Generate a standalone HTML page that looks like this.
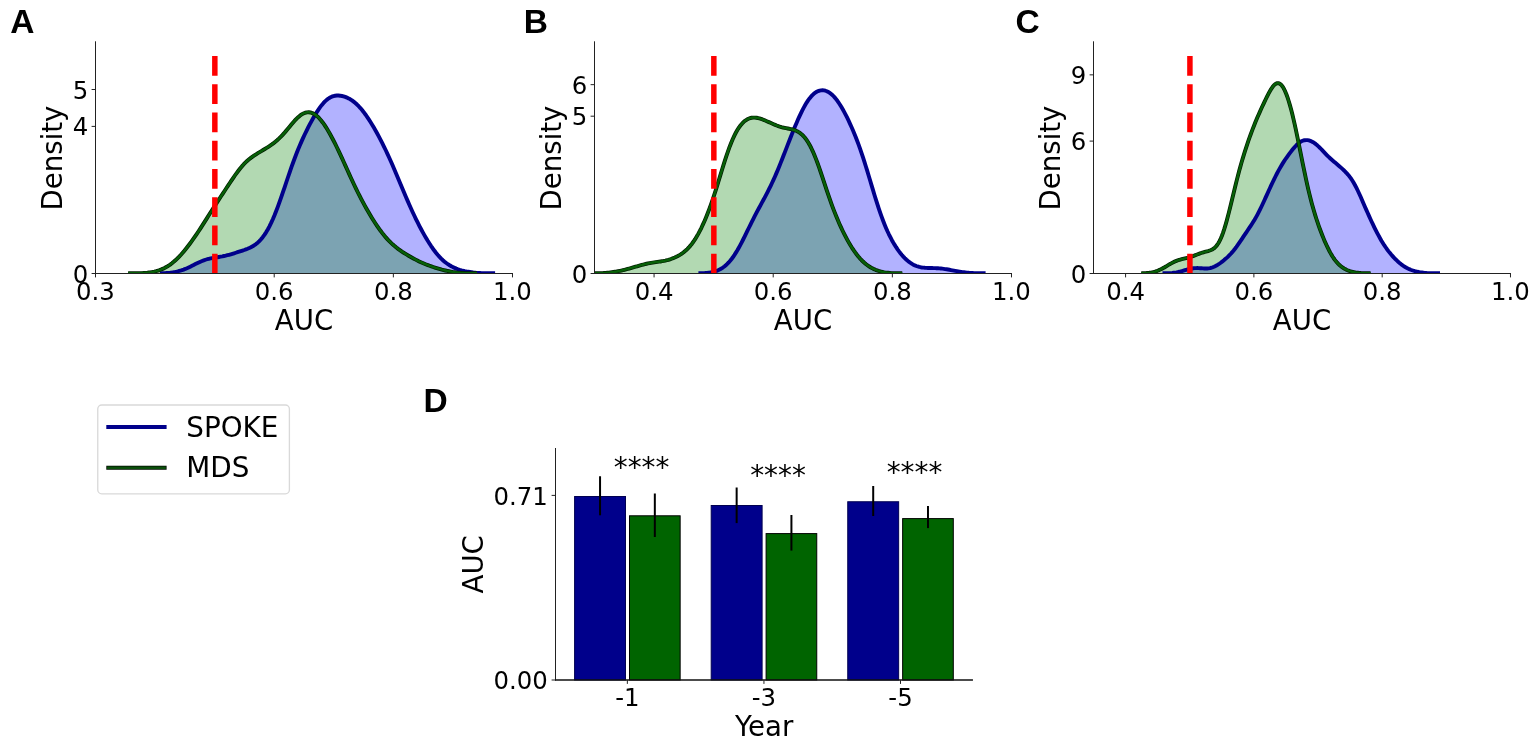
<!DOCTYPE html>
<html lang="en">
<head>
<meta charset="utf-8">
<title>SPOKE vs MDS AUC</title>
<style>
html,body{margin:0;padding:0;background:#fff;}
body{width:1535px;height:743px;overflow:hidden;}
svg{display:block;}
svg text{font-family:"DejaVu Sans", "Liberation Sans", sans-serif;}
svg .letters text{font-family:"Liberation Sans", "DejaVu Sans", sans-serif;font-weight:bold;}
</style>
</head>
<body>
<svg width="1535" height="743" viewBox="0 0 1535 743">
<rect width="1535" height="743" fill="#fff"/>
<clipPath id="clipA"><rect x="95.50" y="41.30" width="416.99" height="232.20"/></clipPath>
<g clip-path="url(#clipA)">
<path d="M160.00,273.30 L161.68,273.30 L163.37,273.25 L165.05,273.16 L166.74,273.05 L168.42,272.92 L170.10,272.75 L171.79,272.54 L173.47,272.29 L175.16,271.99 L176.84,271.63 L178.52,271.22 L180.21,270.74 L181.89,270.20 L183.57,269.60 L185.26,268.94 L186.94,268.22 L188.63,267.45 L190.31,266.65 L191.99,265.81 L193.68,264.96 L195.36,264.11 L197.05,263.28 L198.73,262.47 L200.41,261.70 L202.10,260.99 L203.78,260.34 L205.47,259.76 L207.15,259.24 L208.83,258.79 L210.52,258.40 L212.20,258.06 L213.89,257.76 L215.57,257.49 L217.25,257.23 L218.94,256.96 L220.62,256.68 L222.31,256.37 L223.99,256.02 L225.67,255.65 L227.36,255.23 L229.04,254.78 L230.72,254.30 L232.41,253.79 L234.09,253.27 L235.78,252.74 L237.46,252.20 L239.14,251.66 L240.83,251.12 L242.51,250.56 L244.20,249.99 L245.88,249.38 L247.56,248.73 L249.25,248.02 L250.93,247.21 L252.62,246.29 L254.30,245.24 L255.98,244.04 L257.67,242.65 L259.35,241.06 L261.04,239.25 L262.72,237.20 L264.40,234.89 L266.09,232.32 L267.77,229.46 L269.45,226.32 L271.14,222.90 L272.82,219.20 L274.51,215.24 L276.19,211.02 L277.87,206.58 L279.56,201.94 L281.24,197.15 L282.93,192.24 L284.61,187.26 L286.29,182.25 L287.98,177.25 L289.66,172.32 L291.35,167.48 L293.03,162.77 L294.71,158.21 L296.40,153.81 L298.08,149.58 L299.77,145.52 L301.45,141.63 L303.13,137.89 L304.82,134.29 L306.50,130.81 L308.18,127.46 L309.87,124.22 L311.55,121.09 L313.24,118.07 L314.92,115.17 L316.60,112.42 L318.29,109.82 L319.97,107.39 L321.66,105.17 L323.34,103.16 L325.02,101.38 L326.71,99.84 L328.39,98.55 L330.08,97.51 L331.76,96.70 L333.44,96.12 L335.13,95.75 L336.81,95.56 L338.50,95.55 L340.18,95.69 L341.86,95.98 L343.55,96.39 L345.23,96.94 L346.92,97.60 L348.60,98.40 L350.28,99.33 L351.97,100.41 L353.65,101.63 L355.33,103.00 L357.02,104.54 L358.70,106.23 L360.39,108.07 L362.07,110.07 L363.75,112.21 L365.44,114.48 L367.12,116.88 L368.81,119.40 L370.49,122.02 L372.17,124.75 L373.86,127.58 L375.54,130.50 L377.23,133.52 L378.91,136.63 L380.59,139.83 L382.28,143.12 L383.96,146.51 L385.65,149.99 L387.33,153.57 L389.01,157.23 L390.70,160.98 L392.38,164.80 L394.06,168.70 L395.75,172.65 L397.43,176.64 L399.12,180.66 L400.80,184.70 L402.48,188.73 L404.17,192.74 L405.85,196.71 L407.54,200.63 L409.22,204.48 L410.90,208.26 L412.59,211.95 L414.27,215.54 L415.96,219.05 L417.64,222.45 L419.32,225.76 L421.01,228.97 L422.69,232.08 L424.38,235.09 L426.06,237.99 L427.74,240.79 L429.43,243.47 L431.11,246.04 L432.79,248.48 L434.48,250.79 L436.16,252.96 L437.85,255.00 L439.53,256.89 L441.21,258.63 L442.90,260.23 L444.58,261.69 L446.27,263.02 L447.95,264.22 L449.63,265.30 L451.32,266.26 L453.00,267.13 L454.69,267.91 L456.37,268.60 L458.05,269.23 L459.74,269.78 L461.42,270.28 L463.11,270.72 L464.79,271.11 L466.47,271.46 L468.16,271.77 L469.84,272.04 L471.53,272.28 L473.21,272.49 L474.89,272.66 L476.58,272.82 L478.26,272.95 L479.94,273.06 L481.63,273.15 L483.31,273.22 L485.00,273.28 L486.68,273.30 L488.36,273.30 L490.05,273.30 L491.73,273.30 L493.42,273.30 L495.10,273.30 L495.10,273.50 L160.00,273.50 Z" fill="#0000ff" fill-opacity="0.3"/>
<path d="M128.10,273.30 L129.85,273.30 L131.61,273.30 L133.36,273.30 L135.11,273.30 L136.87,273.30 L138.62,273.27 L140.37,273.20 L142.13,273.10 L143.88,272.99 L145.63,272.85 L147.39,272.68 L149.14,272.46 L150.89,272.21 L152.65,271.91 L154.40,271.54 L156.15,271.12 L157.91,270.62 L159.66,270.05 L161.41,269.39 L163.17,268.63 L164.92,267.78 L166.67,266.82 L168.43,265.75 L170.18,264.56 L171.93,263.26 L173.68,261.83 L175.44,260.29 L177.19,258.64 L178.94,256.87 L180.70,255.00 L182.45,253.03 L184.20,250.96 L185.96,248.80 L187.71,246.57 L189.46,244.25 L191.22,241.87 L192.97,239.42 L194.72,236.91 L196.48,234.35 L198.23,231.73 L199.98,229.07 L201.74,226.37 L203.49,223.64 L205.24,220.88 L207.00,218.11 L208.75,215.33 L210.50,212.56 L212.26,209.80 L214.01,207.06 L215.76,204.33 L217.52,201.63 L219.27,198.94 L221.02,196.27 L222.78,193.61 L224.53,190.95 L226.28,188.29 L228.04,185.64 L229.79,182.99 L231.54,180.37 L233.30,177.79 L235.05,175.26 L236.80,172.81 L238.56,170.46 L240.31,168.23 L242.06,166.14 L243.82,164.19 L245.57,162.40 L247.32,160.75 L249.08,159.25 L250.83,157.87 L252.58,156.59 L254.34,155.40 L256.09,154.28 L257.84,153.19 L259.59,152.14 L261.35,151.09 L263.10,150.04 L264.85,148.98 L266.61,147.90 L268.36,146.78 L270.11,145.62 L271.87,144.40 L273.62,143.10 L275.37,141.72 L277.13,140.24 L278.88,138.64 L280.63,136.93 L282.39,135.10 L284.14,133.16 L285.89,131.13 L287.65,129.03 L289.40,126.90 L291.15,124.77 L292.91,122.68 L294.66,120.69 L296.41,118.83 L298.17,117.14 L299.92,115.66 L301.67,114.42 L303.43,113.44 L305.18,112.74 L306.93,112.35 L308.69,112.26 L310.44,112.48 L312.19,113.02 L313.95,113.87 L315.70,115.03 L317.45,116.48 L319.21,118.21 L320.96,120.20 L322.71,122.45 L324.47,124.92 L326.22,127.60 L327.97,130.47 L329.73,133.50 L331.48,136.69 L333.23,140.01 L334.99,143.46 L336.74,147.01 L338.49,150.65 L340.25,154.37 L342.00,158.15 L343.75,161.98 L345.51,165.85 L347.26,169.72 L349.01,173.59 L350.76,177.44 L352.52,181.24 L354.27,184.98 L356.02,188.65 L357.78,192.24 L359.53,195.73 L361.28,199.13 L363.04,202.44 L364.79,205.66 L366.54,208.79 L368.30,211.83 L370.05,214.80 L371.80,217.68 L373.56,220.47 L375.31,223.19 L377.06,225.81 L378.82,228.34 L380.57,230.77 L382.32,233.09 L384.08,235.30 L385.83,237.39 L387.58,239.36 L389.34,241.21 L391.09,242.94 L392.84,244.57 L394.60,246.09 L396.35,247.52 L398.10,248.87 L399.86,250.14 L401.61,251.35 L403.36,252.52 L405.12,253.63 L406.87,254.71 L408.62,255.76 L410.38,256.78 L412.13,257.76 L413.88,258.72 L415.64,259.64 L417.39,260.53 L419.14,261.39 L420.90,262.21 L422.65,262.99 L424.40,263.74 L426.16,264.46 L427.91,265.14 L429.66,265.80 L431.42,266.42 L433.17,267.02 L434.92,267.59 L436.67,268.14 L438.43,268.66 L440.18,269.16 L441.93,269.64 L443.69,270.08 L445.44,270.50 L447.19,270.89 L448.95,271.25 L450.70,271.58 L452.45,271.88 L454.21,272.14 L455.96,272.37 L457.71,272.58 L459.47,272.75 L461.22,272.90 L462.97,273.02 L464.73,273.13 L466.48,273.21 L468.23,273.28 L469.99,273.30 L471.74,273.30 L473.49,273.30 L475.25,273.30 L477.00,273.30 L477.00,273.50 L128.10,273.50 Z" fill="#008000" fill-opacity="0.3"/>
<path d="M160.00,273.30 L161.68,273.30 L163.37,273.25 L165.05,273.16 L166.74,273.05 L168.42,272.92 L170.10,272.75 L171.79,272.54 L173.47,272.29 L175.16,271.99 L176.84,271.63 L178.52,271.22 L180.21,270.74 L181.89,270.20 L183.57,269.60 L185.26,268.94 L186.94,268.22 L188.63,267.45 L190.31,266.65 L191.99,265.81 L193.68,264.96 L195.36,264.11 L197.05,263.28 L198.73,262.47 L200.41,261.70 L202.10,260.99 L203.78,260.34 L205.47,259.76 L207.15,259.24 L208.83,258.79 L210.52,258.40 L212.20,258.06 L213.89,257.76 L215.57,257.49 L217.25,257.23 L218.94,256.96 L220.62,256.68 L222.31,256.37 L223.99,256.02 L225.67,255.65 L227.36,255.23 L229.04,254.78 L230.72,254.30 L232.41,253.79 L234.09,253.27 L235.78,252.74 L237.46,252.20 L239.14,251.66 L240.83,251.12 L242.51,250.56 L244.20,249.99 L245.88,249.38 L247.56,248.73 L249.25,248.02 L250.93,247.21 L252.62,246.29 L254.30,245.24 L255.98,244.04 L257.67,242.65 L259.35,241.06 L261.04,239.25 L262.72,237.20 L264.40,234.89 L266.09,232.32 L267.77,229.46 L269.45,226.32 L271.14,222.90 L272.82,219.20 L274.51,215.24 L276.19,211.02 L277.87,206.58 L279.56,201.94 L281.24,197.15 L282.93,192.24 L284.61,187.26 L286.29,182.25 L287.98,177.25 L289.66,172.32 L291.35,167.48 L293.03,162.77 L294.71,158.21 L296.40,153.81 L298.08,149.58 L299.77,145.52 L301.45,141.63 L303.13,137.89 L304.82,134.29 L306.50,130.81 L308.18,127.46 L309.87,124.22 L311.55,121.09 L313.24,118.07 L314.92,115.17 L316.60,112.42 L318.29,109.82 L319.97,107.39 L321.66,105.17 L323.34,103.16 L325.02,101.38 L326.71,99.84 L328.39,98.55 L330.08,97.51 L331.76,96.70 L333.44,96.12 L335.13,95.75 L336.81,95.56 L338.50,95.55 L340.18,95.69 L341.86,95.98 L343.55,96.39 L345.23,96.94 L346.92,97.60 L348.60,98.40 L350.28,99.33 L351.97,100.41 L353.65,101.63 L355.33,103.00 L357.02,104.54 L358.70,106.23 L360.39,108.07 L362.07,110.07 L363.75,112.21 L365.44,114.48 L367.12,116.88 L368.81,119.40 L370.49,122.02 L372.17,124.75 L373.86,127.58 L375.54,130.50 L377.23,133.52 L378.91,136.63 L380.59,139.83 L382.28,143.12 L383.96,146.51 L385.65,149.99 L387.33,153.57 L389.01,157.23 L390.70,160.98 L392.38,164.80 L394.06,168.70 L395.75,172.65 L397.43,176.64 L399.12,180.66 L400.80,184.70 L402.48,188.73 L404.17,192.74 L405.85,196.71 L407.54,200.63 L409.22,204.48 L410.90,208.26 L412.59,211.95 L414.27,215.54 L415.96,219.05 L417.64,222.45 L419.32,225.76 L421.01,228.97 L422.69,232.08 L424.38,235.09 L426.06,237.99 L427.74,240.79 L429.43,243.47 L431.11,246.04 L432.79,248.48 L434.48,250.79 L436.16,252.96 L437.85,255.00 L439.53,256.89 L441.21,258.63 L442.90,260.23 L444.58,261.69 L446.27,263.02 L447.95,264.22 L449.63,265.30 L451.32,266.26 L453.00,267.13 L454.69,267.91 L456.37,268.60 L458.05,269.23 L459.74,269.78 L461.42,270.28 L463.11,270.72 L464.79,271.11 L466.47,271.46 L468.16,271.77 L469.84,272.04 L471.53,272.28 L473.21,272.49 L474.89,272.66 L476.58,272.82 L478.26,272.95 L479.94,273.06 L481.63,273.15 L483.31,273.22 L485.00,273.28 L486.68,273.30 L488.36,273.30 L490.05,273.30 L491.73,273.30 L493.42,273.30 L495.10,273.30" fill="none" stroke="#00008b" stroke-width="3.9" stroke-linejoin="round"/>
<path d="M128.10,273.30 L129.85,273.30 L131.61,273.30 L133.36,273.30 L135.11,273.30 L136.87,273.30 L138.62,273.27 L140.37,273.20 L142.13,273.10 L143.88,272.99 L145.63,272.85 L147.39,272.68 L149.14,272.46 L150.89,272.21 L152.65,271.91 L154.40,271.54 L156.15,271.12 L157.91,270.62 L159.66,270.05 L161.41,269.39 L163.17,268.63 L164.92,267.78 L166.67,266.82 L168.43,265.75 L170.18,264.56 L171.93,263.26 L173.68,261.83 L175.44,260.29 L177.19,258.64 L178.94,256.87 L180.70,255.00 L182.45,253.03 L184.20,250.96 L185.96,248.80 L187.71,246.57 L189.46,244.25 L191.22,241.87 L192.97,239.42 L194.72,236.91 L196.48,234.35 L198.23,231.73 L199.98,229.07 L201.74,226.37 L203.49,223.64 L205.24,220.88 L207.00,218.11 L208.75,215.33 L210.50,212.56 L212.26,209.80 L214.01,207.06 L215.76,204.33 L217.52,201.63 L219.27,198.94 L221.02,196.27 L222.78,193.61 L224.53,190.95 L226.28,188.29 L228.04,185.64 L229.79,182.99 L231.54,180.37 L233.30,177.79 L235.05,175.26 L236.80,172.81 L238.56,170.46 L240.31,168.23 L242.06,166.14 L243.82,164.19 L245.57,162.40 L247.32,160.75 L249.08,159.25 L250.83,157.87 L252.58,156.59 L254.34,155.40 L256.09,154.28 L257.84,153.19 L259.59,152.14 L261.35,151.09 L263.10,150.04 L264.85,148.98 L266.61,147.90 L268.36,146.78 L270.11,145.62 L271.87,144.40 L273.62,143.10 L275.37,141.72 L277.13,140.24 L278.88,138.64 L280.63,136.93 L282.39,135.10 L284.14,133.16 L285.89,131.13 L287.65,129.03 L289.40,126.90 L291.15,124.77 L292.91,122.68 L294.66,120.69 L296.41,118.83 L298.17,117.14 L299.92,115.66 L301.67,114.42 L303.43,113.44 L305.18,112.74 L306.93,112.35 L308.69,112.26 L310.44,112.48 L312.19,113.02 L313.95,113.87 L315.70,115.03 L317.45,116.48 L319.21,118.21 L320.96,120.20 L322.71,122.45 L324.47,124.92 L326.22,127.60 L327.97,130.47 L329.73,133.50 L331.48,136.69 L333.23,140.01 L334.99,143.46 L336.74,147.01 L338.49,150.65 L340.25,154.37 L342.00,158.15 L343.75,161.98 L345.51,165.85 L347.26,169.72 L349.01,173.59 L350.76,177.44 L352.52,181.24 L354.27,184.98 L356.02,188.65 L357.78,192.24 L359.53,195.73 L361.28,199.13 L363.04,202.44 L364.79,205.66 L366.54,208.79 L368.30,211.83 L370.05,214.80 L371.80,217.68 L373.56,220.47 L375.31,223.19 L377.06,225.81 L378.82,228.34 L380.57,230.77 L382.32,233.09 L384.08,235.30 L385.83,237.39 L387.58,239.36 L389.34,241.21 L391.09,242.94 L392.84,244.57 L394.60,246.09 L396.35,247.52 L398.10,248.87 L399.86,250.14 L401.61,251.35 L403.36,252.52 L405.12,253.63 L406.87,254.71 L408.62,255.76 L410.38,256.78 L412.13,257.76 L413.88,258.72 L415.64,259.64 L417.39,260.53 L419.14,261.39 L420.90,262.21 L422.65,262.99 L424.40,263.74 L426.16,264.46 L427.91,265.14 L429.66,265.80 L431.42,266.42 L433.17,267.02 L434.92,267.59 L436.67,268.14 L438.43,268.66 L440.18,269.16 L441.93,269.64 L443.69,270.08 L445.44,270.50 L447.19,270.89 L448.95,271.25 L450.70,271.58 L452.45,271.88 L454.21,272.14 L455.96,272.37 L457.71,272.58 L459.47,272.75 L461.22,272.90 L462.97,273.02 L464.73,273.13 L466.48,273.21 L468.23,273.28 L469.99,273.30 L471.74,273.30 L473.49,273.30 L475.25,273.30 L477.00,273.30" fill="none" stroke="#001c00" stroke-width="3.9" stroke-linejoin="round"/>
<path d="M128.10,273.30 L129.85,273.30 L131.61,273.30 L133.36,273.30 L135.11,273.30 L136.87,273.30 L138.62,273.27 L140.37,273.20 L142.13,273.10 L143.88,272.99 L145.63,272.85 L147.39,272.68 L149.14,272.46 L150.89,272.21 L152.65,271.91 L154.40,271.54 L156.15,271.12 L157.91,270.62 L159.66,270.05 L161.41,269.39 L163.17,268.63 L164.92,267.78 L166.67,266.82 L168.43,265.75 L170.18,264.56 L171.93,263.26 L173.68,261.83 L175.44,260.29 L177.19,258.64 L178.94,256.87 L180.70,255.00 L182.45,253.03 L184.20,250.96 L185.96,248.80 L187.71,246.57 L189.46,244.25 L191.22,241.87 L192.97,239.42 L194.72,236.91 L196.48,234.35 L198.23,231.73 L199.98,229.07 L201.74,226.37 L203.49,223.64 L205.24,220.88 L207.00,218.11 L208.75,215.33 L210.50,212.56 L212.26,209.80 L214.01,207.06 L215.76,204.33 L217.52,201.63 L219.27,198.94 L221.02,196.27 L222.78,193.61 L224.53,190.95 L226.28,188.29 L228.04,185.64 L229.79,182.99 L231.54,180.37 L233.30,177.79 L235.05,175.26 L236.80,172.81 L238.56,170.46 L240.31,168.23 L242.06,166.14 L243.82,164.19 L245.57,162.40 L247.32,160.75 L249.08,159.25 L250.83,157.87 L252.58,156.59 L254.34,155.40 L256.09,154.28 L257.84,153.19 L259.59,152.14 L261.35,151.09 L263.10,150.04 L264.85,148.98 L266.61,147.90 L268.36,146.78 L270.11,145.62 L271.87,144.40 L273.62,143.10 L275.37,141.72 L277.13,140.24 L278.88,138.64 L280.63,136.93 L282.39,135.10 L284.14,133.16 L285.89,131.13 L287.65,129.03 L289.40,126.90 L291.15,124.77 L292.91,122.68 L294.66,120.69 L296.41,118.83 L298.17,117.14 L299.92,115.66 L301.67,114.42 L303.43,113.44 L305.18,112.74 L306.93,112.35 L308.69,112.26 L310.44,112.48 L312.19,113.02 L313.95,113.87 L315.70,115.03 L317.45,116.48 L319.21,118.21 L320.96,120.20 L322.71,122.45 L324.47,124.92 L326.22,127.60 L327.97,130.47 L329.73,133.50 L331.48,136.69 L333.23,140.01 L334.99,143.46 L336.74,147.01 L338.49,150.65 L340.25,154.37 L342.00,158.15 L343.75,161.98 L345.51,165.85 L347.26,169.72 L349.01,173.59 L350.76,177.44 L352.52,181.24 L354.27,184.98 L356.02,188.65 L357.78,192.24 L359.53,195.73 L361.28,199.13 L363.04,202.44 L364.79,205.66 L366.54,208.79 L368.30,211.83 L370.05,214.80 L371.80,217.68 L373.56,220.47 L375.31,223.19 L377.06,225.81 L378.82,228.34 L380.57,230.77 L382.32,233.09 L384.08,235.30 L385.83,237.39 L387.58,239.36 L389.34,241.21 L391.09,242.94 L392.84,244.57 L394.60,246.09 L396.35,247.52 L398.10,248.87 L399.86,250.14 L401.61,251.35 L403.36,252.52 L405.12,253.63 L406.87,254.71 L408.62,255.76 L410.38,256.78 L412.13,257.76 L413.88,258.72 L415.64,259.64 L417.39,260.53 L419.14,261.39 L420.90,262.21 L422.65,262.99 L424.40,263.74 L426.16,264.46 L427.91,265.14 L429.66,265.80 L431.42,266.42 L433.17,267.02 L434.92,267.59 L436.67,268.14 L438.43,268.66 L440.18,269.16 L441.93,269.64 L443.69,270.08 L445.44,270.50 L447.19,270.89 L448.95,271.25 L450.70,271.58 L452.45,271.88 L454.21,272.14 L455.96,272.37 L457.71,272.58 L459.47,272.75 L461.22,272.90 L462.97,273.02 L464.73,273.13 L466.48,273.21 L468.23,273.28 L469.99,273.30 L471.74,273.30 L473.49,273.30 L475.25,273.30 L477.00,273.30" fill="none" stroke="#076007" stroke-width="2.5" stroke-linejoin="round"/>
<line x1="214.84" y1="55.9" x2="214.84" y2="273.50" stroke="#ff0000" stroke-width="5.5" stroke-dasharray="19.73 8.53"/>
</g>
<g stroke="#222" stroke-width="1" fill="none">
<line x1="95.50" y1="41.30" x2="95.50" y2="274.00"/>
<line x1="95.00" y1="273.50" x2="512.99" y2="273.50"/>
<line x1="95.50" y1="273.50" x2="95.50" y2="277.40"/>
<line x1="274.21" y1="273.50" x2="274.21" y2="277.40"/>
<line x1="393.35" y1="273.50" x2="393.35" y2="277.40"/>
<line x1="512.49" y1="273.50" x2="512.49" y2="277.40"/>
<line x1="95.50" y1="273.50" x2="91.60" y2="273.50"/>
<line x1="95.50" y1="126.40" x2="91.60" y2="126.40"/>
<line x1="95.50" y1="89.50" x2="91.60" y2="89.50"/>
</g>
<g font-size="24.4" fill="#000">
<text x="95.50" y="299.50" text-anchor="middle">0.3</text>
<text x="274.21" y="299.50" text-anchor="middle">0.6</text>
<text x="393.35" y="299.50" text-anchor="middle">0.8</text>
<text x="512.49" y="299.50" text-anchor="middle">1.0</text>
<text x="88.20" y="282.50" text-anchor="end">0</text>
<text x="88.20" y="135.40" text-anchor="end">4</text>
<text x="88.20" y="98.50" text-anchor="end">5</text>
</g>
<text x="304.00" y="330.30" text-anchor="middle" font-size="27.6">AUC</text>
<text transform="translate(62.00,158.00) rotate(-90)" text-anchor="middle" font-size="27.6">Density</text>
<clipPath id="clipB"><rect x="594.50" y="41.30" width="416.99" height="232.20"/></clipPath>
<g clip-path="url(#clipB)">
<path d="M698.40,273.30 L699.84,273.30 L701.29,273.27 L702.73,273.20 L704.17,273.11 L705.62,273.00 L707.06,272.86 L708.50,272.69 L709.95,272.49 L711.39,272.23 L712.83,271.93 L714.28,271.56 L715.72,271.12 L717.16,270.60 L718.61,270.00 L720.05,269.29 L721.49,268.48 L722.93,267.55 L724.38,266.48 L725.82,265.28 L727.26,263.94 L728.71,262.45 L730.15,260.80 L731.59,258.99 L733.04,257.03 L734.48,254.91 L735.92,252.64 L737.37,250.24 L738.81,247.71 L740.25,245.06 L741.70,242.31 L743.14,239.49 L744.58,236.60 L746.03,233.67 L747.47,230.73 L748.91,227.77 L750.36,224.83 L751.80,221.92 L753.24,219.05 L754.69,216.22 L756.13,213.44 L757.57,210.70 L759.02,207.99 L760.46,205.32 L761.90,202.66 L763.34,200.00 L764.79,197.32 L766.23,194.60 L767.67,191.82 L769.12,188.98 L770.56,186.05 L772.00,183.03 L773.45,179.90 L774.89,176.68 L776.33,173.36 L777.78,169.94 L779.22,166.44 L780.66,162.86 L782.11,159.22 L783.55,155.54 L784.99,151.84 L786.44,148.11 L787.88,144.39 L789.32,140.69 L790.77,137.01 L792.21,133.38 L793.65,129.81 L795.10,126.31 L796.54,122.89 L797.98,119.58 L799.43,116.38 L800.87,113.31 L802.31,110.38 L803.75,107.61 L805.20,105.03 L806.64,102.62 L808.08,100.42 L809.53,98.43 L810.97,96.66 L812.41,95.10 L813.86,93.77 L815.30,92.66 L816.74,91.76 L818.19,91.08 L819.63,90.61 L821.07,90.34 L822.52,90.27 L823.96,90.39 L825.40,90.72 L826.85,91.23 L828.29,91.94 L829.73,92.85 L831.18,93.95 L832.62,95.24 L834.06,96.72 L835.51,98.39 L836.95,100.24 L838.39,102.27 L839.84,104.46 L841.28,106.80 L842.72,109.28 L844.16,111.90 L845.61,114.64 L847.05,117.49 L848.49,120.46 L849.94,123.55 L851.38,126.74 L852.82,130.06 L854.27,133.50 L855.71,137.07 L857.15,140.79 L858.60,144.66 L860.04,148.68 L861.48,152.86 L862.93,157.19 L864.37,161.65 L865.81,166.25 L867.26,170.94 L868.70,175.71 L870.14,180.53 L871.59,185.37 L873.03,190.18 L874.47,194.94 L875.92,199.61 L877.36,204.17 L878.80,208.58 L880.25,212.83 L881.69,216.90 L883.13,220.78 L884.57,224.45 L886.02,227.93 L887.46,231.21 L888.90,234.30 L890.35,237.20 L891.79,239.93 L893.23,242.50 L894.68,244.91 L896.12,247.18 L897.56,249.32 L899.01,251.32 L900.45,253.20 L901.89,254.95 L903.34,256.58 L904.78,258.10 L906.22,259.49 L907.67,260.77 L909.11,261.92 L910.55,262.96 L912.00,263.89 L913.44,264.69 L914.88,265.39 L916.33,265.99 L917.77,266.48 L919.21,266.89 L920.66,267.21 L922.10,267.46 L923.54,267.65 L924.98,267.79 L926.43,267.88 L927.87,267.94 L929.31,267.99 L930.76,268.02 L932.20,268.04 L933.64,268.08 L935.09,268.12 L936.53,268.18 L937.97,268.27 L939.42,268.37 L940.86,268.51 L942.30,268.67 L943.75,268.85 L945.19,269.06 L946.63,269.28 L948.08,269.53 L949.52,269.79 L950.96,270.05 L952.41,270.33 L953.85,270.60 L955.29,270.87 L956.74,271.13 L958.18,271.39 L959.62,271.63 L961.07,271.86 L962.51,272.07 L963.95,272.26 L965.39,272.44 L966.84,272.59 L968.28,272.74 L969.72,272.86 L971.17,272.97 L972.61,273.06 L974.05,273.14 L975.50,273.21 L976.94,273.27 L978.38,273.30 L979.83,273.30 L981.27,273.30 L982.71,273.30 L984.16,273.30 L985.60,273.30 L985.60,273.50 L698.40,273.50 Z" fill="#0000ff" fill-opacity="0.3"/>
<path d="M590.00,273.30 L591.57,273.30 L593.14,273.30 L594.71,273.30 L596.28,273.30 L597.85,273.30 L599.41,273.29 L600.98,273.22 L602.55,273.15 L604.12,273.05 L605.69,272.94 L607.26,272.81 L608.83,272.65 L610.40,272.47 L611.97,272.27 L613.54,272.04 L615.11,271.78 L616.67,271.51 L618.24,271.20 L619.81,270.88 L621.38,270.53 L622.95,270.16 L624.52,269.78 L626.09,269.37 L627.66,268.96 L629.23,268.53 L630.80,268.09 L632.37,267.64 L633.93,267.19 L635.50,266.73 L637.07,266.27 L638.64,265.82 L640.21,265.37 L641.78,264.94 L643.35,264.53 L644.92,264.13 L646.49,263.76 L648.06,263.42 L649.63,263.11 L651.19,262.83 L652.76,262.57 L654.33,262.33 L655.90,262.11 L657.47,261.90 L659.04,261.68 L660.61,261.45 L662.18,261.19 L663.75,260.91 L665.32,260.58 L666.89,260.20 L668.45,259.78 L670.02,259.30 L671.59,258.76 L673.16,258.16 L674.73,257.49 L676.30,256.76 L677.87,255.96 L679.44,255.08 L681.01,254.11 L682.58,253.04 L684.15,251.85 L685.71,250.53 L687.28,249.07 L688.85,247.44 L690.42,245.65 L691.99,243.67 L693.56,241.50 L695.13,239.15 L696.70,236.59 L698.27,233.85 L699.84,230.91 L701.41,227.77 L702.97,224.45 L704.54,220.93 L706.11,217.21 L707.68,213.30 L709.25,209.18 L710.82,204.86 L712.39,200.35 L713.96,195.66 L715.53,190.80 L717.10,185.81 L718.67,180.72 L720.23,175.59 L721.80,170.45 L723.37,165.37 L724.94,160.40 L726.51,155.60 L728.08,151.02 L729.65,146.70 L731.22,142.67 L732.79,138.95 L734.36,135.56 L735.93,132.50 L737.49,129.76 L739.06,127.34 L740.63,125.23 L742.20,123.40 L743.77,121.85 L745.34,120.56 L746.91,119.52 L748.48,118.72 L750.05,118.14 L751.62,117.77 L753.19,117.59 L754.76,117.59 L756.32,117.74 L757.89,118.02 L759.46,118.41 L761.03,118.90 L762.60,119.46 L764.17,120.07 L765.74,120.73 L767.31,121.42 L768.88,122.12 L770.45,122.84 L772.02,123.54 L773.58,124.23 L775.15,124.90 L776.72,125.53 L778.29,126.11 L779.86,126.63 L781.43,127.10 L783.00,127.51 L784.57,127.87 L786.14,128.20 L787.71,128.50 L789.28,128.79 L790.84,129.12 L792.41,129.49 L793.98,129.95 L795.55,130.52 L797.12,131.22 L798.69,132.09 L800.26,133.16 L801.83,134.45 L803.40,135.98 L804.97,137.78 L806.54,139.87 L808.10,142.26 L809.67,144.96 L811.24,147.99 L812.81,151.33 L814.38,154.97 L815.95,158.89 L817.52,163.06 L819.09,167.45 L820.66,171.99 L822.23,176.65 L823.80,181.37 L825.36,186.11 L826.93,190.81 L828.50,195.43 L830.07,199.95 L831.64,204.34 L833.21,208.58 L834.78,212.66 L836.35,216.58 L837.92,220.35 L839.49,223.96 L841.06,227.42 L842.62,230.73 L844.19,233.91 L845.76,236.96 L847.33,239.87 L848.90,242.65 L850.47,245.30 L852.04,247.81 L853.61,250.19 L855.18,252.43 L856.75,254.53 L858.32,256.49 L859.88,258.31 L861.45,260.00 L863.02,261.55 L864.59,262.97 L866.16,264.28 L867.73,265.46 L869.30,266.53 L870.87,267.49 L872.44,268.36 L874.01,269.13 L875.58,269.81 L877.14,270.41 L878.71,270.93 L880.28,271.38 L881.85,271.76 L883.42,272.09 L884.99,272.37 L886.56,272.60 L888.13,272.79 L889.70,272.95 L891.27,273.08 L892.84,273.18 L894.40,273.26 L895.97,273.30 L897.54,273.30 L899.11,273.30 L900.68,273.30 L902.25,273.30 L902.25,273.50 L590.00,273.50 Z" fill="#008000" fill-opacity="0.3"/>
<path d="M698.40,273.30 L699.84,273.30 L701.29,273.27 L702.73,273.20 L704.17,273.11 L705.62,273.00 L707.06,272.86 L708.50,272.69 L709.95,272.49 L711.39,272.23 L712.83,271.93 L714.28,271.56 L715.72,271.12 L717.16,270.60 L718.61,270.00 L720.05,269.29 L721.49,268.48 L722.93,267.55 L724.38,266.48 L725.82,265.28 L727.26,263.94 L728.71,262.45 L730.15,260.80 L731.59,258.99 L733.04,257.03 L734.48,254.91 L735.92,252.64 L737.37,250.24 L738.81,247.71 L740.25,245.06 L741.70,242.31 L743.14,239.49 L744.58,236.60 L746.03,233.67 L747.47,230.73 L748.91,227.77 L750.36,224.83 L751.80,221.92 L753.24,219.05 L754.69,216.22 L756.13,213.44 L757.57,210.70 L759.02,207.99 L760.46,205.32 L761.90,202.66 L763.34,200.00 L764.79,197.32 L766.23,194.60 L767.67,191.82 L769.12,188.98 L770.56,186.05 L772.00,183.03 L773.45,179.90 L774.89,176.68 L776.33,173.36 L777.78,169.94 L779.22,166.44 L780.66,162.86 L782.11,159.22 L783.55,155.54 L784.99,151.84 L786.44,148.11 L787.88,144.39 L789.32,140.69 L790.77,137.01 L792.21,133.38 L793.65,129.81 L795.10,126.31 L796.54,122.89 L797.98,119.58 L799.43,116.38 L800.87,113.31 L802.31,110.38 L803.75,107.61 L805.20,105.03 L806.64,102.62 L808.08,100.42 L809.53,98.43 L810.97,96.66 L812.41,95.10 L813.86,93.77 L815.30,92.66 L816.74,91.76 L818.19,91.08 L819.63,90.61 L821.07,90.34 L822.52,90.27 L823.96,90.39 L825.40,90.72 L826.85,91.23 L828.29,91.94 L829.73,92.85 L831.18,93.95 L832.62,95.24 L834.06,96.72 L835.51,98.39 L836.95,100.24 L838.39,102.27 L839.84,104.46 L841.28,106.80 L842.72,109.28 L844.16,111.90 L845.61,114.64 L847.05,117.49 L848.49,120.46 L849.94,123.55 L851.38,126.74 L852.82,130.06 L854.27,133.50 L855.71,137.07 L857.15,140.79 L858.60,144.66 L860.04,148.68 L861.48,152.86 L862.93,157.19 L864.37,161.65 L865.81,166.25 L867.26,170.94 L868.70,175.71 L870.14,180.53 L871.59,185.37 L873.03,190.18 L874.47,194.94 L875.92,199.61 L877.36,204.17 L878.80,208.58 L880.25,212.83 L881.69,216.90 L883.13,220.78 L884.57,224.45 L886.02,227.93 L887.46,231.21 L888.90,234.30 L890.35,237.20 L891.79,239.93 L893.23,242.50 L894.68,244.91 L896.12,247.18 L897.56,249.32 L899.01,251.32 L900.45,253.20 L901.89,254.95 L903.34,256.58 L904.78,258.10 L906.22,259.49 L907.67,260.77 L909.11,261.92 L910.55,262.96 L912.00,263.89 L913.44,264.69 L914.88,265.39 L916.33,265.99 L917.77,266.48 L919.21,266.89 L920.66,267.21 L922.10,267.46 L923.54,267.65 L924.98,267.79 L926.43,267.88 L927.87,267.94 L929.31,267.99 L930.76,268.02 L932.20,268.04 L933.64,268.08 L935.09,268.12 L936.53,268.18 L937.97,268.27 L939.42,268.37 L940.86,268.51 L942.30,268.67 L943.75,268.85 L945.19,269.06 L946.63,269.28 L948.08,269.53 L949.52,269.79 L950.96,270.05 L952.41,270.33 L953.85,270.60 L955.29,270.87 L956.74,271.13 L958.18,271.39 L959.62,271.63 L961.07,271.86 L962.51,272.07 L963.95,272.26 L965.39,272.44 L966.84,272.59 L968.28,272.74 L969.72,272.86 L971.17,272.97 L972.61,273.06 L974.05,273.14 L975.50,273.21 L976.94,273.27 L978.38,273.30 L979.83,273.30 L981.27,273.30 L982.71,273.30 L984.16,273.30 L985.60,273.30" fill="none" stroke="#00008b" stroke-width="3.9" stroke-linejoin="round"/>
<path d="M590.00,273.30 L591.57,273.30 L593.14,273.30 L594.71,273.30 L596.28,273.30 L597.85,273.30 L599.41,273.29 L600.98,273.22 L602.55,273.15 L604.12,273.05 L605.69,272.94 L607.26,272.81 L608.83,272.65 L610.40,272.47 L611.97,272.27 L613.54,272.04 L615.11,271.78 L616.67,271.51 L618.24,271.20 L619.81,270.88 L621.38,270.53 L622.95,270.16 L624.52,269.78 L626.09,269.37 L627.66,268.96 L629.23,268.53 L630.80,268.09 L632.37,267.64 L633.93,267.19 L635.50,266.73 L637.07,266.27 L638.64,265.82 L640.21,265.37 L641.78,264.94 L643.35,264.53 L644.92,264.13 L646.49,263.76 L648.06,263.42 L649.63,263.11 L651.19,262.83 L652.76,262.57 L654.33,262.33 L655.90,262.11 L657.47,261.90 L659.04,261.68 L660.61,261.45 L662.18,261.19 L663.75,260.91 L665.32,260.58 L666.89,260.20 L668.45,259.78 L670.02,259.30 L671.59,258.76 L673.16,258.16 L674.73,257.49 L676.30,256.76 L677.87,255.96 L679.44,255.08 L681.01,254.11 L682.58,253.04 L684.15,251.85 L685.71,250.53 L687.28,249.07 L688.85,247.44 L690.42,245.65 L691.99,243.67 L693.56,241.50 L695.13,239.15 L696.70,236.59 L698.27,233.85 L699.84,230.91 L701.41,227.77 L702.97,224.45 L704.54,220.93 L706.11,217.21 L707.68,213.30 L709.25,209.18 L710.82,204.86 L712.39,200.35 L713.96,195.66 L715.53,190.80 L717.10,185.81 L718.67,180.72 L720.23,175.59 L721.80,170.45 L723.37,165.37 L724.94,160.40 L726.51,155.60 L728.08,151.02 L729.65,146.70 L731.22,142.67 L732.79,138.95 L734.36,135.56 L735.93,132.50 L737.49,129.76 L739.06,127.34 L740.63,125.23 L742.20,123.40 L743.77,121.85 L745.34,120.56 L746.91,119.52 L748.48,118.72 L750.05,118.14 L751.62,117.77 L753.19,117.59 L754.76,117.59 L756.32,117.74 L757.89,118.02 L759.46,118.41 L761.03,118.90 L762.60,119.46 L764.17,120.07 L765.74,120.73 L767.31,121.42 L768.88,122.12 L770.45,122.84 L772.02,123.54 L773.58,124.23 L775.15,124.90 L776.72,125.53 L778.29,126.11 L779.86,126.63 L781.43,127.10 L783.00,127.51 L784.57,127.87 L786.14,128.20 L787.71,128.50 L789.28,128.79 L790.84,129.12 L792.41,129.49 L793.98,129.95 L795.55,130.52 L797.12,131.22 L798.69,132.09 L800.26,133.16 L801.83,134.45 L803.40,135.98 L804.97,137.78 L806.54,139.87 L808.10,142.26 L809.67,144.96 L811.24,147.99 L812.81,151.33 L814.38,154.97 L815.95,158.89 L817.52,163.06 L819.09,167.45 L820.66,171.99 L822.23,176.65 L823.80,181.37 L825.36,186.11 L826.93,190.81 L828.50,195.43 L830.07,199.95 L831.64,204.34 L833.21,208.58 L834.78,212.66 L836.35,216.58 L837.92,220.35 L839.49,223.96 L841.06,227.42 L842.62,230.73 L844.19,233.91 L845.76,236.96 L847.33,239.87 L848.90,242.65 L850.47,245.30 L852.04,247.81 L853.61,250.19 L855.18,252.43 L856.75,254.53 L858.32,256.49 L859.88,258.31 L861.45,260.00 L863.02,261.55 L864.59,262.97 L866.16,264.28 L867.73,265.46 L869.30,266.53 L870.87,267.49 L872.44,268.36 L874.01,269.13 L875.58,269.81 L877.14,270.41 L878.71,270.93 L880.28,271.38 L881.85,271.76 L883.42,272.09 L884.99,272.37 L886.56,272.60 L888.13,272.79 L889.70,272.95 L891.27,273.08 L892.84,273.18 L894.40,273.26 L895.97,273.30 L897.54,273.30 L899.11,273.30 L900.68,273.30 L902.25,273.30" fill="none" stroke="#001c00" stroke-width="3.9" stroke-linejoin="round"/>
<path d="M590.00,273.30 L591.57,273.30 L593.14,273.30 L594.71,273.30 L596.28,273.30 L597.85,273.30 L599.41,273.29 L600.98,273.22 L602.55,273.15 L604.12,273.05 L605.69,272.94 L607.26,272.81 L608.83,272.65 L610.40,272.47 L611.97,272.27 L613.54,272.04 L615.11,271.78 L616.67,271.51 L618.24,271.20 L619.81,270.88 L621.38,270.53 L622.95,270.16 L624.52,269.78 L626.09,269.37 L627.66,268.96 L629.23,268.53 L630.80,268.09 L632.37,267.64 L633.93,267.19 L635.50,266.73 L637.07,266.27 L638.64,265.82 L640.21,265.37 L641.78,264.94 L643.35,264.53 L644.92,264.13 L646.49,263.76 L648.06,263.42 L649.63,263.11 L651.19,262.83 L652.76,262.57 L654.33,262.33 L655.90,262.11 L657.47,261.90 L659.04,261.68 L660.61,261.45 L662.18,261.19 L663.75,260.91 L665.32,260.58 L666.89,260.20 L668.45,259.78 L670.02,259.30 L671.59,258.76 L673.16,258.16 L674.73,257.49 L676.30,256.76 L677.87,255.96 L679.44,255.08 L681.01,254.11 L682.58,253.04 L684.15,251.85 L685.71,250.53 L687.28,249.07 L688.85,247.44 L690.42,245.65 L691.99,243.67 L693.56,241.50 L695.13,239.15 L696.70,236.59 L698.27,233.85 L699.84,230.91 L701.41,227.77 L702.97,224.45 L704.54,220.93 L706.11,217.21 L707.68,213.30 L709.25,209.18 L710.82,204.86 L712.39,200.35 L713.96,195.66 L715.53,190.80 L717.10,185.81 L718.67,180.72 L720.23,175.59 L721.80,170.45 L723.37,165.37 L724.94,160.40 L726.51,155.60 L728.08,151.02 L729.65,146.70 L731.22,142.67 L732.79,138.95 L734.36,135.56 L735.93,132.50 L737.49,129.76 L739.06,127.34 L740.63,125.23 L742.20,123.40 L743.77,121.85 L745.34,120.56 L746.91,119.52 L748.48,118.72 L750.05,118.14 L751.62,117.77 L753.19,117.59 L754.76,117.59 L756.32,117.74 L757.89,118.02 L759.46,118.41 L761.03,118.90 L762.60,119.46 L764.17,120.07 L765.74,120.73 L767.31,121.42 L768.88,122.12 L770.45,122.84 L772.02,123.54 L773.58,124.23 L775.15,124.90 L776.72,125.53 L778.29,126.11 L779.86,126.63 L781.43,127.10 L783.00,127.51 L784.57,127.87 L786.14,128.20 L787.71,128.50 L789.28,128.79 L790.84,129.12 L792.41,129.49 L793.98,129.95 L795.55,130.52 L797.12,131.22 L798.69,132.09 L800.26,133.16 L801.83,134.45 L803.40,135.98 L804.97,137.78 L806.54,139.87 L808.10,142.26 L809.67,144.96 L811.24,147.99 L812.81,151.33 L814.38,154.97 L815.95,158.89 L817.52,163.06 L819.09,167.45 L820.66,171.99 L822.23,176.65 L823.80,181.37 L825.36,186.11 L826.93,190.81 L828.50,195.43 L830.07,199.95 L831.64,204.34 L833.21,208.58 L834.78,212.66 L836.35,216.58 L837.92,220.35 L839.49,223.96 L841.06,227.42 L842.62,230.73 L844.19,233.91 L845.76,236.96 L847.33,239.87 L848.90,242.65 L850.47,245.30 L852.04,247.81 L853.61,250.19 L855.18,252.43 L856.75,254.53 L858.32,256.49 L859.88,258.31 L861.45,260.00 L863.02,261.55 L864.59,262.97 L866.16,264.28 L867.73,265.46 L869.30,266.53 L870.87,267.49 L872.44,268.36 L874.01,269.13 L875.58,269.81 L877.14,270.41 L878.71,270.93 L880.28,271.38 L881.85,271.76 L883.42,272.09 L884.99,272.37 L886.56,272.60 L888.13,272.79 L889.70,272.95 L891.27,273.08 L892.84,273.18 L894.40,273.26 L895.97,273.30 L897.54,273.30 L899.11,273.30 L900.68,273.30 L902.25,273.30" fill="none" stroke="#076007" stroke-width="2.5" stroke-linejoin="round"/>
<line x1="713.84" y1="55.9" x2="713.84" y2="273.50" stroke="#ff0000" stroke-width="5.5" stroke-dasharray="19.73 8.53"/>
</g>
<g stroke="#222" stroke-width="1" fill="none">
<line x1="594.50" y1="41.30" x2="594.50" y2="274.00"/>
<line x1="594.00" y1="273.50" x2="1011.99" y2="273.50"/>
<line x1="654.07" y1="273.50" x2="654.07" y2="277.40"/>
<line x1="773.21" y1="273.50" x2="773.21" y2="277.40"/>
<line x1="892.35" y1="273.50" x2="892.35" y2="277.40"/>
<line x1="1011.49" y1="273.50" x2="1011.49" y2="277.40"/>
<line x1="594.50" y1="273.50" x2="590.60" y2="273.50"/>
<line x1="594.50" y1="116.20" x2="590.60" y2="116.20"/>
<line x1="594.50" y1="84.65" x2="590.60" y2="84.65"/>
</g>
<g font-size="24.4" fill="#000">
<text x="654.07" y="299.50" text-anchor="middle">0.4</text>
<text x="773.21" y="299.50" text-anchor="middle">0.6</text>
<text x="892.35" y="299.50" text-anchor="middle">0.8</text>
<text x="1011.49" y="299.50" text-anchor="middle">1.0</text>
<text x="587.20" y="282.50" text-anchor="end">0</text>
<text x="587.20" y="125.20" text-anchor="end">5</text>
<text x="587.20" y="93.65" text-anchor="end">6</text>
</g>
<text x="803.00" y="330.30" text-anchor="middle" font-size="27.6">AUC</text>
<text transform="translate(561.00,158.00) rotate(-90)" text-anchor="middle" font-size="27.6">Density</text>
<clipPath id="clipC"><rect x="1093.50" y="41.30" width="416.97" height="232.20"/></clipPath>
<g clip-path="url(#clipC)">
<path d="M1162.50,273.30 L1163.89,273.30 L1165.29,273.30 L1166.68,273.30 L1168.08,273.27 L1169.47,273.18 L1170.87,273.07 L1172.26,272.94 L1173.66,272.77 L1175.05,272.57 L1176.44,272.34 L1177.84,272.06 L1179.23,271.75 L1180.63,271.41 L1182.02,271.03 L1183.42,270.64 L1184.81,270.24 L1186.21,269.84 L1187.60,269.45 L1188.99,269.09 L1190.39,268.77 L1191.78,268.51 L1193.18,268.30 L1194.57,268.16 L1195.97,268.09 L1197.36,268.07 L1198.76,268.11 L1200.15,268.19 L1201.55,268.28 L1202.94,268.38 L1204.33,268.45 L1205.73,268.48 L1207.12,268.44 L1208.52,268.32 L1209.91,268.09 L1211.31,267.76 L1212.70,267.31 L1214.10,266.75 L1215.49,266.08 L1216.88,265.30 L1218.28,264.44 L1219.67,263.50 L1221.07,262.49 L1222.46,261.42 L1223.86,260.29 L1225.25,259.11 L1226.65,257.87 L1228.04,256.57 L1229.43,255.19 L1230.83,253.72 L1232.22,252.16 L1233.62,250.50 L1235.01,248.74 L1236.41,246.88 L1237.80,244.94 L1239.20,242.93 L1240.59,240.87 L1241.98,238.80 L1243.38,236.71 L1244.77,234.64 L1246.17,232.57 L1247.56,230.52 L1248.96,228.46 L1250.35,226.38 L1251.75,224.26 L1253.14,222.06 L1254.54,219.77 L1255.93,217.36 L1257.32,214.83 L1258.72,212.17 L1260.11,209.39 L1261.51,206.50 L1262.90,203.53 L1264.30,200.49 L1265.69,197.42 L1267.09,194.33 L1268.48,191.25 L1269.87,188.19 L1271.27,185.18 L1272.66,182.21 L1274.06,179.32 L1275.45,176.49 L1276.85,173.76 L1278.24,171.13 L1279.64,168.60 L1281.03,166.18 L1282.42,163.87 L1283.82,161.66 L1285.21,159.55 L1286.61,157.52 L1288.00,155.57 L1289.40,153.67 L1290.79,151.83 L1292.19,150.05 L1293.58,148.35 L1294.97,146.75 L1296.37,145.26 L1297.76,143.92 L1299.16,142.76 L1300.55,141.79 L1301.95,141.04 L1303.34,140.51 L1304.74,140.19 L1306.13,140.08 L1307.53,140.16 L1308.92,140.43 L1310.31,140.87 L1311.71,141.47 L1313.10,142.23 L1314.50,143.13 L1315.89,144.17 L1317.29,145.34 L1318.68,146.62 L1320.08,148.00 L1321.47,149.44 L1322.86,150.92 L1324.26,152.41 L1325.65,153.88 L1327.05,155.31 L1328.44,156.69 L1329.84,158.01 L1331.23,159.27 L1332.63,160.49 L1334.02,161.68 L1335.41,162.85 L1336.81,164.02 L1338.20,165.20 L1339.60,166.41 L1340.99,167.63 L1342.39,168.90 L1343.78,170.21 L1345.18,171.59 L1346.57,173.05 L1347.96,174.62 L1349.36,176.33 L1350.75,178.20 L1352.15,180.26 L1353.54,182.52 L1354.94,184.99 L1356.33,187.65 L1357.73,190.49 L1359.12,193.47 L1360.52,196.57 L1361.91,199.74 L1363.30,202.95 L1364.70,206.17 L1366.09,209.37 L1367.49,212.53 L1368.88,215.65 L1370.28,218.71 L1371.67,221.71 L1373.07,224.66 L1374.46,227.54 L1375.85,230.34 L1377.25,233.07 L1378.64,235.71 L1380.04,238.25 L1381.43,240.68 L1382.83,242.99 L1384.22,245.19 L1385.62,247.27 L1387.01,249.24 L1388.40,251.10 L1389.80,252.86 L1391.19,254.53 L1392.59,256.12 L1393.98,257.63 L1395.38,259.07 L1396.77,260.44 L1398.17,261.73 L1399.56,262.94 L1400.95,264.08 L1402.35,265.13 L1403.74,266.09 L1405.14,266.98 L1406.53,267.78 L1407.93,268.50 L1409.32,269.15 L1410.72,269.72 L1412.11,270.24 L1413.51,270.70 L1414.90,271.10 L1416.29,271.46 L1417.69,271.78 L1419.08,272.06 L1420.48,272.31 L1421.87,272.52 L1423.27,272.70 L1424.66,272.86 L1426.06,272.99 L1427.45,273.10 L1428.84,273.19 L1430.24,273.26 L1431.63,273.30 L1433.03,273.30 L1434.42,273.30 L1435.82,273.30 L1437.21,273.30 L1438.61,273.30 L1440.00,273.30 L1440.00,273.50 L1162.50,273.50 Z" fill="#0000ff" fill-opacity="0.3"/>
<path d="M1141.25,273.30 L1142.40,273.30 L1143.56,273.30 L1144.71,273.24 L1145.86,273.16 L1147.01,273.06 L1148.17,272.94 L1149.32,272.80 L1150.47,272.63 L1151.62,272.42 L1152.78,272.18 L1153.93,271.90 L1155.08,271.58 L1156.23,271.22 L1157.39,270.80 L1158.54,270.35 L1159.69,269.84 L1160.84,269.30 L1162.00,268.71 L1163.15,268.08 L1164.30,267.43 L1165.45,266.76 L1166.61,266.07 L1167.76,265.37 L1168.91,264.68 L1170.06,264.00 L1171.22,263.35 L1172.37,262.72 L1173.52,262.13 L1174.67,261.59 L1175.83,261.08 L1176.98,260.63 L1178.13,260.21 L1179.28,259.84 L1180.44,259.51 L1181.59,259.20 L1182.74,258.92 L1183.89,258.65 L1185.05,258.38 L1186.20,258.11 L1187.35,257.83 L1188.50,257.53 L1189.66,257.20 L1190.81,256.84 L1191.96,256.46 L1193.11,256.05 L1194.27,255.62 L1195.42,255.18 L1196.57,254.73 L1197.72,254.27 L1198.88,253.83 L1200.03,253.40 L1201.18,252.99 L1202.33,252.61 L1203.49,252.26 L1204.64,251.93 L1205.79,251.62 L1206.94,251.33 L1208.10,251.02 L1209.25,250.68 L1210.40,250.28 L1211.55,249.79 L1212.71,249.18 L1213.86,248.40 L1215.01,247.43 L1216.16,246.23 L1217.32,244.76 L1218.47,242.99 L1219.62,240.90 L1220.77,238.47 L1221.93,235.70 L1223.08,232.59 L1224.23,229.15 L1225.38,225.39 L1226.54,221.36 L1227.69,217.09 L1228.84,212.61 L1229.99,207.99 L1231.15,203.26 L1232.30,198.48 L1233.45,193.69 L1234.60,188.93 L1235.76,184.24 L1236.91,179.65 L1238.06,175.18 L1239.21,170.84 L1240.37,166.64 L1241.52,162.57 L1242.67,158.64 L1243.82,154.83 L1244.98,151.15 L1246.13,147.57 L1247.28,144.10 L1248.43,140.72 L1249.59,137.43 L1250.74,134.24 L1251.89,131.13 L1253.04,128.11 L1254.20,125.17 L1255.35,122.32 L1256.50,119.54 L1257.65,116.84 L1258.81,114.19 L1259.96,111.61 L1261.11,109.06 L1262.26,106.55 L1263.42,104.08 L1264.57,101.64 L1265.72,99.23 L1266.87,96.88 L1268.03,94.61 L1269.18,92.43 L1270.33,90.39 L1271.48,88.52 L1272.64,86.86 L1273.79,85.46 L1274.94,84.35 L1276.09,83.57 L1277.25,83.16 L1278.40,83.13 L1279.55,83.52 L1280.70,84.31 L1281.86,85.53 L1283.01,87.17 L1284.16,89.22 L1285.31,91.66 L1286.47,94.49 L1287.62,97.70 L1288.77,101.25 L1289.92,105.14 L1291.08,109.35 L1292.23,113.85 L1293.38,118.63 L1294.53,123.65 L1295.69,128.89 L1296.84,134.31 L1297.99,139.88 L1299.14,145.55 L1300.30,151.29 L1301.45,157.04 L1302.60,162.76 L1303.75,168.41 L1304.91,173.95 L1306.06,179.35 L1307.21,184.57 L1308.36,189.60 L1309.52,194.41 L1310.67,199.01 L1311.82,203.40 L1312.97,207.57 L1314.13,211.55 L1315.28,215.34 L1316.43,218.97 L1317.58,222.44 L1318.74,225.77 L1319.89,228.97 L1321.04,232.05 L1322.19,235.03 L1323.35,237.89 L1324.50,240.64 L1325.65,243.28 L1326.80,245.80 L1327.96,248.20 L1329.11,250.48 L1330.26,252.63 L1331.41,254.64 L1332.57,256.52 L1333.72,258.26 L1334.87,259.86 L1336.02,261.34 L1337.18,262.68 L1338.33,263.91 L1339.48,265.02 L1340.63,266.02 L1341.79,266.92 L1342.94,267.74 L1344.09,268.46 L1345.24,269.11 L1346.40,269.69 L1347.55,270.21 L1348.70,270.67 L1349.85,271.07 L1351.01,271.43 L1352.16,271.75 L1353.31,272.02 L1354.46,272.26 L1355.62,272.47 L1356.77,272.65 L1357.92,272.80 L1359.07,272.93 L1360.23,273.04 L1361.38,273.13 L1362.53,273.21 L1363.68,273.27 L1364.84,273.30 L1365.99,273.30 L1367.14,273.30 L1368.29,273.30 L1369.45,273.30 L1370.60,273.30 L1370.60,273.50 L1141.25,273.50 Z" fill="#008000" fill-opacity="0.3"/>
<path d="M1162.50,273.30 L1163.89,273.30 L1165.29,273.30 L1166.68,273.30 L1168.08,273.27 L1169.47,273.18 L1170.87,273.07 L1172.26,272.94 L1173.66,272.77 L1175.05,272.57 L1176.44,272.34 L1177.84,272.06 L1179.23,271.75 L1180.63,271.41 L1182.02,271.03 L1183.42,270.64 L1184.81,270.24 L1186.21,269.84 L1187.60,269.45 L1188.99,269.09 L1190.39,268.77 L1191.78,268.51 L1193.18,268.30 L1194.57,268.16 L1195.97,268.09 L1197.36,268.07 L1198.76,268.11 L1200.15,268.19 L1201.55,268.28 L1202.94,268.38 L1204.33,268.45 L1205.73,268.48 L1207.12,268.44 L1208.52,268.32 L1209.91,268.09 L1211.31,267.76 L1212.70,267.31 L1214.10,266.75 L1215.49,266.08 L1216.88,265.30 L1218.28,264.44 L1219.67,263.50 L1221.07,262.49 L1222.46,261.42 L1223.86,260.29 L1225.25,259.11 L1226.65,257.87 L1228.04,256.57 L1229.43,255.19 L1230.83,253.72 L1232.22,252.16 L1233.62,250.50 L1235.01,248.74 L1236.41,246.88 L1237.80,244.94 L1239.20,242.93 L1240.59,240.87 L1241.98,238.80 L1243.38,236.71 L1244.77,234.64 L1246.17,232.57 L1247.56,230.52 L1248.96,228.46 L1250.35,226.38 L1251.75,224.26 L1253.14,222.06 L1254.54,219.77 L1255.93,217.36 L1257.32,214.83 L1258.72,212.17 L1260.11,209.39 L1261.51,206.50 L1262.90,203.53 L1264.30,200.49 L1265.69,197.42 L1267.09,194.33 L1268.48,191.25 L1269.87,188.19 L1271.27,185.18 L1272.66,182.21 L1274.06,179.32 L1275.45,176.49 L1276.85,173.76 L1278.24,171.13 L1279.64,168.60 L1281.03,166.18 L1282.42,163.87 L1283.82,161.66 L1285.21,159.55 L1286.61,157.52 L1288.00,155.57 L1289.40,153.67 L1290.79,151.83 L1292.19,150.05 L1293.58,148.35 L1294.97,146.75 L1296.37,145.26 L1297.76,143.92 L1299.16,142.76 L1300.55,141.79 L1301.95,141.04 L1303.34,140.51 L1304.74,140.19 L1306.13,140.08 L1307.53,140.16 L1308.92,140.43 L1310.31,140.87 L1311.71,141.47 L1313.10,142.23 L1314.50,143.13 L1315.89,144.17 L1317.29,145.34 L1318.68,146.62 L1320.08,148.00 L1321.47,149.44 L1322.86,150.92 L1324.26,152.41 L1325.65,153.88 L1327.05,155.31 L1328.44,156.69 L1329.84,158.01 L1331.23,159.27 L1332.63,160.49 L1334.02,161.68 L1335.41,162.85 L1336.81,164.02 L1338.20,165.20 L1339.60,166.41 L1340.99,167.63 L1342.39,168.90 L1343.78,170.21 L1345.18,171.59 L1346.57,173.05 L1347.96,174.62 L1349.36,176.33 L1350.75,178.20 L1352.15,180.26 L1353.54,182.52 L1354.94,184.99 L1356.33,187.65 L1357.73,190.49 L1359.12,193.47 L1360.52,196.57 L1361.91,199.74 L1363.30,202.95 L1364.70,206.17 L1366.09,209.37 L1367.49,212.53 L1368.88,215.65 L1370.28,218.71 L1371.67,221.71 L1373.07,224.66 L1374.46,227.54 L1375.85,230.34 L1377.25,233.07 L1378.64,235.71 L1380.04,238.25 L1381.43,240.68 L1382.83,242.99 L1384.22,245.19 L1385.62,247.27 L1387.01,249.24 L1388.40,251.10 L1389.80,252.86 L1391.19,254.53 L1392.59,256.12 L1393.98,257.63 L1395.38,259.07 L1396.77,260.44 L1398.17,261.73 L1399.56,262.94 L1400.95,264.08 L1402.35,265.13 L1403.74,266.09 L1405.14,266.98 L1406.53,267.78 L1407.93,268.50 L1409.32,269.15 L1410.72,269.72 L1412.11,270.24 L1413.51,270.70 L1414.90,271.10 L1416.29,271.46 L1417.69,271.78 L1419.08,272.06 L1420.48,272.31 L1421.87,272.52 L1423.27,272.70 L1424.66,272.86 L1426.06,272.99 L1427.45,273.10 L1428.84,273.19 L1430.24,273.26 L1431.63,273.30 L1433.03,273.30 L1434.42,273.30 L1435.82,273.30 L1437.21,273.30 L1438.61,273.30 L1440.00,273.30" fill="none" stroke="#00008b" stroke-width="3.9" stroke-linejoin="round"/>
<path d="M1141.25,273.30 L1142.40,273.30 L1143.56,273.30 L1144.71,273.24 L1145.86,273.16 L1147.01,273.06 L1148.17,272.94 L1149.32,272.80 L1150.47,272.63 L1151.62,272.42 L1152.78,272.18 L1153.93,271.90 L1155.08,271.58 L1156.23,271.22 L1157.39,270.80 L1158.54,270.35 L1159.69,269.84 L1160.84,269.30 L1162.00,268.71 L1163.15,268.08 L1164.30,267.43 L1165.45,266.76 L1166.61,266.07 L1167.76,265.37 L1168.91,264.68 L1170.06,264.00 L1171.22,263.35 L1172.37,262.72 L1173.52,262.13 L1174.67,261.59 L1175.83,261.08 L1176.98,260.63 L1178.13,260.21 L1179.28,259.84 L1180.44,259.51 L1181.59,259.20 L1182.74,258.92 L1183.89,258.65 L1185.05,258.38 L1186.20,258.11 L1187.35,257.83 L1188.50,257.53 L1189.66,257.20 L1190.81,256.84 L1191.96,256.46 L1193.11,256.05 L1194.27,255.62 L1195.42,255.18 L1196.57,254.73 L1197.72,254.27 L1198.88,253.83 L1200.03,253.40 L1201.18,252.99 L1202.33,252.61 L1203.49,252.26 L1204.64,251.93 L1205.79,251.62 L1206.94,251.33 L1208.10,251.02 L1209.25,250.68 L1210.40,250.28 L1211.55,249.79 L1212.71,249.18 L1213.86,248.40 L1215.01,247.43 L1216.16,246.23 L1217.32,244.76 L1218.47,242.99 L1219.62,240.90 L1220.77,238.47 L1221.93,235.70 L1223.08,232.59 L1224.23,229.15 L1225.38,225.39 L1226.54,221.36 L1227.69,217.09 L1228.84,212.61 L1229.99,207.99 L1231.15,203.26 L1232.30,198.48 L1233.45,193.69 L1234.60,188.93 L1235.76,184.24 L1236.91,179.65 L1238.06,175.18 L1239.21,170.84 L1240.37,166.64 L1241.52,162.57 L1242.67,158.64 L1243.82,154.83 L1244.98,151.15 L1246.13,147.57 L1247.28,144.10 L1248.43,140.72 L1249.59,137.43 L1250.74,134.24 L1251.89,131.13 L1253.04,128.11 L1254.20,125.17 L1255.35,122.32 L1256.50,119.54 L1257.65,116.84 L1258.81,114.19 L1259.96,111.61 L1261.11,109.06 L1262.26,106.55 L1263.42,104.08 L1264.57,101.64 L1265.72,99.23 L1266.87,96.88 L1268.03,94.61 L1269.18,92.43 L1270.33,90.39 L1271.48,88.52 L1272.64,86.86 L1273.79,85.46 L1274.94,84.35 L1276.09,83.57 L1277.25,83.16 L1278.40,83.13 L1279.55,83.52 L1280.70,84.31 L1281.86,85.53 L1283.01,87.17 L1284.16,89.22 L1285.31,91.66 L1286.47,94.49 L1287.62,97.70 L1288.77,101.25 L1289.92,105.14 L1291.08,109.35 L1292.23,113.85 L1293.38,118.63 L1294.53,123.65 L1295.69,128.89 L1296.84,134.31 L1297.99,139.88 L1299.14,145.55 L1300.30,151.29 L1301.45,157.04 L1302.60,162.76 L1303.75,168.41 L1304.91,173.95 L1306.06,179.35 L1307.21,184.57 L1308.36,189.60 L1309.52,194.41 L1310.67,199.01 L1311.82,203.40 L1312.97,207.57 L1314.13,211.55 L1315.28,215.34 L1316.43,218.97 L1317.58,222.44 L1318.74,225.77 L1319.89,228.97 L1321.04,232.05 L1322.19,235.03 L1323.35,237.89 L1324.50,240.64 L1325.65,243.28 L1326.80,245.80 L1327.96,248.20 L1329.11,250.48 L1330.26,252.63 L1331.41,254.64 L1332.57,256.52 L1333.72,258.26 L1334.87,259.86 L1336.02,261.34 L1337.18,262.68 L1338.33,263.91 L1339.48,265.02 L1340.63,266.02 L1341.79,266.92 L1342.94,267.74 L1344.09,268.46 L1345.24,269.11 L1346.40,269.69 L1347.55,270.21 L1348.70,270.67 L1349.85,271.07 L1351.01,271.43 L1352.16,271.75 L1353.31,272.02 L1354.46,272.26 L1355.62,272.47 L1356.77,272.65 L1357.92,272.80 L1359.07,272.93 L1360.23,273.04 L1361.38,273.13 L1362.53,273.21 L1363.68,273.27 L1364.84,273.30 L1365.99,273.30 L1367.14,273.30 L1368.29,273.30 L1369.45,273.30 L1370.60,273.30" fill="none" stroke="#001c00" stroke-width="3.9" stroke-linejoin="round"/>
<path d="M1141.25,273.30 L1142.40,273.30 L1143.56,273.30 L1144.71,273.24 L1145.86,273.16 L1147.01,273.06 L1148.17,272.94 L1149.32,272.80 L1150.47,272.63 L1151.62,272.42 L1152.78,272.18 L1153.93,271.90 L1155.08,271.58 L1156.23,271.22 L1157.39,270.80 L1158.54,270.35 L1159.69,269.84 L1160.84,269.30 L1162.00,268.71 L1163.15,268.08 L1164.30,267.43 L1165.45,266.76 L1166.61,266.07 L1167.76,265.37 L1168.91,264.68 L1170.06,264.00 L1171.22,263.35 L1172.37,262.72 L1173.52,262.13 L1174.67,261.59 L1175.83,261.08 L1176.98,260.63 L1178.13,260.21 L1179.28,259.84 L1180.44,259.51 L1181.59,259.20 L1182.74,258.92 L1183.89,258.65 L1185.05,258.38 L1186.20,258.11 L1187.35,257.83 L1188.50,257.53 L1189.66,257.20 L1190.81,256.84 L1191.96,256.46 L1193.11,256.05 L1194.27,255.62 L1195.42,255.18 L1196.57,254.73 L1197.72,254.27 L1198.88,253.83 L1200.03,253.40 L1201.18,252.99 L1202.33,252.61 L1203.49,252.26 L1204.64,251.93 L1205.79,251.62 L1206.94,251.33 L1208.10,251.02 L1209.25,250.68 L1210.40,250.28 L1211.55,249.79 L1212.71,249.18 L1213.86,248.40 L1215.01,247.43 L1216.16,246.23 L1217.32,244.76 L1218.47,242.99 L1219.62,240.90 L1220.77,238.47 L1221.93,235.70 L1223.08,232.59 L1224.23,229.15 L1225.38,225.39 L1226.54,221.36 L1227.69,217.09 L1228.84,212.61 L1229.99,207.99 L1231.15,203.26 L1232.30,198.48 L1233.45,193.69 L1234.60,188.93 L1235.76,184.24 L1236.91,179.65 L1238.06,175.18 L1239.21,170.84 L1240.37,166.64 L1241.52,162.57 L1242.67,158.64 L1243.82,154.83 L1244.98,151.15 L1246.13,147.57 L1247.28,144.10 L1248.43,140.72 L1249.59,137.43 L1250.74,134.24 L1251.89,131.13 L1253.04,128.11 L1254.20,125.17 L1255.35,122.32 L1256.50,119.54 L1257.65,116.84 L1258.81,114.19 L1259.96,111.61 L1261.11,109.06 L1262.26,106.55 L1263.42,104.08 L1264.57,101.64 L1265.72,99.23 L1266.87,96.88 L1268.03,94.61 L1269.18,92.43 L1270.33,90.39 L1271.48,88.52 L1272.64,86.86 L1273.79,85.46 L1274.94,84.35 L1276.09,83.57 L1277.25,83.16 L1278.40,83.13 L1279.55,83.52 L1280.70,84.31 L1281.86,85.53 L1283.01,87.17 L1284.16,89.22 L1285.31,91.66 L1286.47,94.49 L1287.62,97.70 L1288.77,101.25 L1289.92,105.14 L1291.08,109.35 L1292.23,113.85 L1293.38,118.63 L1294.53,123.65 L1295.69,128.89 L1296.84,134.31 L1297.99,139.88 L1299.14,145.55 L1300.30,151.29 L1301.45,157.04 L1302.60,162.76 L1303.75,168.41 L1304.91,173.95 L1306.06,179.35 L1307.21,184.57 L1308.36,189.60 L1309.52,194.41 L1310.67,199.01 L1311.82,203.40 L1312.97,207.57 L1314.13,211.55 L1315.28,215.34 L1316.43,218.97 L1317.58,222.44 L1318.74,225.77 L1319.89,228.97 L1321.04,232.05 L1322.19,235.03 L1323.35,237.89 L1324.50,240.64 L1325.65,243.28 L1326.80,245.80 L1327.96,248.20 L1329.11,250.48 L1330.26,252.63 L1331.41,254.64 L1332.57,256.52 L1333.72,258.26 L1334.87,259.86 L1336.02,261.34 L1337.18,262.68 L1338.33,263.91 L1339.48,265.02 L1340.63,266.02 L1341.79,266.92 L1342.94,267.74 L1344.09,268.46 L1345.24,269.11 L1346.40,269.69 L1347.55,270.21 L1348.70,270.67 L1349.85,271.07 L1351.01,271.43 L1352.16,271.75 L1353.31,272.02 L1354.46,272.26 L1355.62,272.47 L1356.77,272.65 L1357.92,272.80 L1359.07,272.93 L1360.23,273.04 L1361.38,273.13 L1362.53,273.21 L1363.68,273.27 L1364.84,273.30 L1365.99,273.30 L1367.14,273.30 L1368.29,273.30 L1369.45,273.30 L1370.60,273.30" fill="none" stroke="#076007" stroke-width="2.5" stroke-linejoin="round"/>
<line x1="1189.92" y1="55.9" x2="1189.92" y2="273.50" stroke="#ff0000" stroke-width="5.5" stroke-dasharray="19.73 8.53"/>
</g>
<g stroke="#222" stroke-width="1" fill="none">
<line x1="1093.50" y1="41.30" x2="1093.50" y2="274.00"/>
<line x1="1093.00" y1="273.50" x2="1510.97" y2="273.50"/>
<line x1="1125.58" y1="273.50" x2="1125.58" y2="277.40"/>
<line x1="1253.88" y1="273.50" x2="1253.88" y2="277.40"/>
<line x1="1382.18" y1="273.50" x2="1382.18" y2="277.40"/>
<line x1="1510.47" y1="273.50" x2="1510.47" y2="277.40"/>
<line x1="1093.50" y1="273.50" x2="1089.60" y2="273.50"/>
<line x1="1093.50" y1="141.10" x2="1089.60" y2="141.10"/>
<line x1="1093.50" y1="74.85" x2="1089.60" y2="74.85"/>
</g>
<g font-size="24.4" fill="#000">
<text x="1125.58" y="299.50" text-anchor="middle">0.4</text>
<text x="1253.88" y="299.50" text-anchor="middle">0.6</text>
<text x="1382.18" y="299.50" text-anchor="middle">0.8</text>
<text x="1510.47" y="299.50" text-anchor="middle">1.0</text>
<text x="1086.20" y="282.50" text-anchor="end">0</text>
<text x="1086.20" y="150.10" text-anchor="end">6</text>
<text x="1086.20" y="83.85" text-anchor="end">9</text>
</g>
<text x="1301.99" y="330.30" text-anchor="middle" font-size="27.6">AUC</text>
<text transform="translate(1060.00,158.00) rotate(-90)" text-anchor="middle" font-size="27.6">Density</text>
<g class="letters" font-size="33.5">
<text x="10.2" y="32.8">A</text>
<text x="523.8" y="32.8">B</text>
<text x="1015.5" y="32.8">C</text>
<text x="423.4" y="411.5">D</text>
</g>
<rect x="97.75" y="405" width="191.65" height="88.8" rx="4" ry="4" fill="#fff" stroke="#d9d9d9" stroke-width="1.33"/>
<line x1="106.3" y1="427" x2="166.6" y2="427" stroke="#00008b" stroke-width="4"/>
<line x1="106.3" y1="467.75" x2="166.6" y2="467.75" stroke="#000a00" stroke-width="4"/>
<line x1="107.1" y1="467.75" x2="165.8" y2="467.75" stroke="#0a4e0a" stroke-width="2.4"/>
<g font-size="27.8"><text x="186.3" y="436.7">SPOKE</text><text x="186.3" y="477.4">MDS</text></g>
<rect x="574.60" y="496.50" width="50.90" height="183.50" fill="#00008b" stroke="#000050" stroke-width="1.0"/>
<rect x="629.50" y="515.80" width="50.65" height="164.20" fill="#006400" stroke="#000" stroke-width="1.0"/>
<line x1="600.05" y1="476.25" x2="600.05" y2="515.3" stroke="#000" stroke-width="2"/>
<line x1="654.83" y1="493.5" x2="654.83" y2="537.0" stroke="#000" stroke-width="2"/>
<rect x="711.20" y="505.50" width="50.90" height="174.50" fill="#00008b" stroke="#000050" stroke-width="1.0"/>
<rect x="766.10" y="533.60" width="50.65" height="146.40" fill="#006400" stroke="#000" stroke-width="1.0"/>
<line x1="736.65" y1="487.5" x2="736.65" y2="523.1" stroke="#000" stroke-width="2"/>
<line x1="791.42" y1="515.0" x2="791.42" y2="550.6" stroke="#000" stroke-width="2"/>
<rect x="847.75" y="501.75" width="50.90" height="178.25" fill="#00008b" stroke="#000050" stroke-width="1.0"/>
<rect x="902.65" y="518.60" width="50.65" height="161.40" fill="#006400" stroke="#000" stroke-width="1.0"/>
<line x1="873.20" y1="486.0" x2="873.20" y2="516.0" stroke="#000" stroke-width="2"/>
<line x1="927.97" y1="506.0" x2="927.97" y2="528.1" stroke="#000" stroke-width="2"/>
<g stroke="#222" stroke-width="1" fill="none">
<line x1="555.5" y1="448.0" x2="555.5" y2="680.5"/>
<line x1="555.0" y1="680.0" x2="972.95" y2="680.0" stroke-width="1.4" stroke="#111"/>
<line x1="627.35" y1="680.0" x2="627.35" y2="683.9"/>
<line x1="763.95" y1="680.0" x2="763.95" y2="683.9"/>
<line x1="900.5" y1="680.0" x2="900.5" y2="683.9"/>
<line x1="555.5" y1="495.4" x2="551.6" y2="495.4"/>
<line x1="555.5" y1="680.0" x2="551.6" y2="680.0"/>
</g>
<g font-size="24.4">
<text x="627.35" y="706.0" text-anchor="middle">-1</text>
<text x="763.95" y="706.0" text-anchor="middle">-3</text>
<text x="900.5" y="706.0" text-anchor="middle">-5</text>
<text x="547.7" y="504.5" text-anchor="end">0.71</text>
<text x="547.7" y="689.1" text-anchor="end">0.00</text>
</g>
<g font-size="27.8">
<text x="613.8" y="477.0">****</text>
<text x="750.2" y="485.1">****</text>
<text x="886.7" y="482.0">****</text>
</g>
<g font-size="27.6">
<text x="764.12" y="736.4" text-anchor="middle">Year</text>
<text transform="translate(483.2,564.3) rotate(-90)" text-anchor="middle">AUC</text>
</g>
</svg>
</body>
</html>
